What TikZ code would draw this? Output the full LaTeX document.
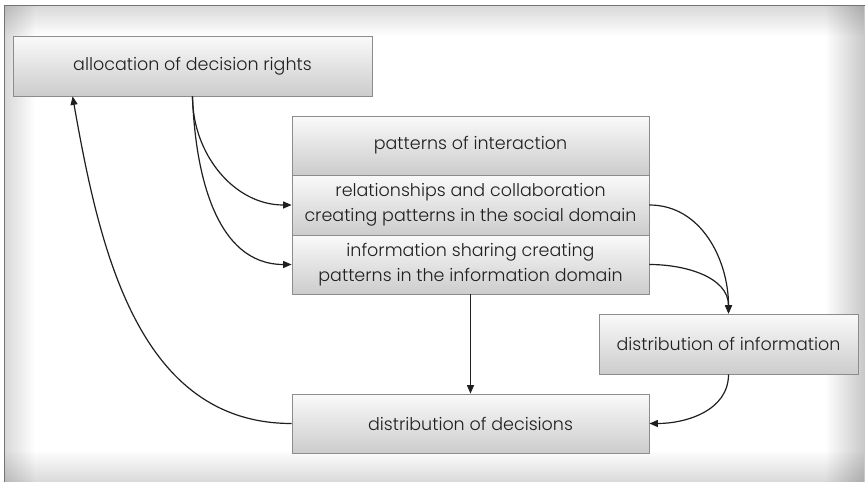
\documentclass[tikz,border=0pt]{standalone}
\usepackage{fontspec}
\setmainfont{Poppins}[UprightFont=* Light]
\usetikzlibrary{arrows.meta,fadings}
\tikzfading[name=fadeToRight, left color=transparent!0, right color=transparent!100]
\tikzfading[name=fadeToLeft, left color=transparent!100, right color=transparent!0]
\tikzfading[name=fadeToTop, bottom color=transparent!0, top color=transparent!100]
\tikzfading[name=fadeToBottom, top color=transparent!0, bottom color=transparent!100]
\begin{document}
\begin{tikzpicture}[x=1pt,y=1pt,
  box/.style={draw=black!45, line width=0.8pt, top color=black!2, bottom color=black!20,
    minimum width=357pt, minimum height=60pt, inner sep=0pt, align=center,
    font=\fontsize{17.5}{25}\selectfont, text=black!88},
  arr/.style={-{Triangle[length=8.5pt,width=7pt]}, line width=1.2pt, black!88}]
\useasboundingbox (0,0) rectangle (865,-482);
\fill[white] (0,0) rectangle (865,-482);
\fill[black, opacity=0.15, path fading=fadeToBottom] (5,-6) rectangle (865,-36);
\fill[black, opacity=0.15, path fading=fadeToRight] (5,-6) rectangle (35,-482);
\fill[black, opacity=0.22, path fading=fadeToLeft] (825,-6) rectangle (865,-482);
\fill[black, opacity=0.15, path fading=fadeToTop] (5,-450) rectangle (865,-482);
\draw[black!55, line width=1.2pt] (4.5,-482) -- (4.5,-5.5) -- (865,-5.5);

\node[box, minimum width=359pt] (alloc) at (192.5,-66) {allocation of decision rights};
\node[box, minimum height=59pt] (pat) at (470.5,-145.5) {patterns of interaction};
\node[box] (rel) at (470.5,-205) {relationships and collaboration\\creating patterns in the social domain};
\node[box, minimum height=59pt] (info) at (470.5,-264.5) {information sharing creating\\patterns in the information domain};
\node[box, minimum width=259pt] (dinfo) at (728.5,-344) {distribution of information};
\node[box, minimum height=59pt] (dec) at (470.5,-423.5) {distribution of decisions};
\coordinate (ain) at ([xshift=60pt]alloc.south west);

\draw[arr] (alloc.south) to[out=-90,in=180] (rel.west);
\draw[arr] (alloc.south) to[out=-88,in=180] (info.west);
\draw[arr] (rel.east) to[out=0,in=90] (dinfo.north);
\draw[arr] (info.east) to[out=0,in=90] (dinfo.north);
\draw[arr] (dinfo.south) to[out=-90,in=0] (dec.east);
\draw[arr] (info.south) -- (dec.north);
\draw[arr] (dec.west) to[out=180,in=-80] (ain);
\end{tikzpicture}
\end{document}
